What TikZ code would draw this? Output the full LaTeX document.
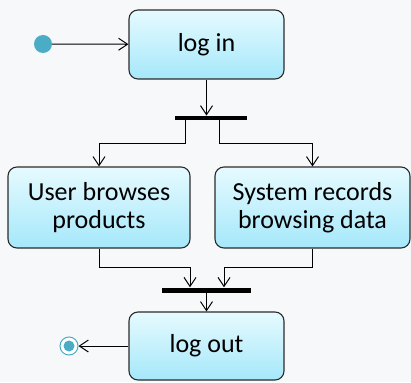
\documentclass[tikz,border=0pt]{standalone}
\usepackage{fontspec}
\setmainfont{Carlito}
\usepackage{xcolor}
\definecolor{actbg}{HTML}{F7F8FA}
\definecolor{acttop}{HTML}{E6FAFF}
\definecolor{actbot}{HTML}{A5E8FA}
\definecolor{actdot}{HTML}{4BACC6}
\definecolor{actln}{HTML}{2B2B2B}
\usetikzlibrary{arrows.meta,positioning,calc}

\begin{document}
\begin{tikzpicture}[x=1pt,y=-1pt,
  act/.style={draw=actln,line width=1.1pt,rounded corners=9pt,top color=acttop,bottom color=actbot,
    align=center,inner sep=0pt,font=\fontsize{26}{28}\selectfont},
  bar/.style={fill=black,inner sep=0pt},
  flow/.style={draw=black,line width=1pt,-{Straight Barb[length=9pt,width=12pt]}}]
\useasboundingbox[fill=actbg] (0,0) rectangle (411,382);
\node[act,minimum width=155pt,minimum height=69pt] (login) at (206.5,44.5) {log in};
\node[bar,minimum width=72pt,minimum height=4.5pt] (fork) at (211,118) {};
\node[act,minimum width=182pt,minimum height=81pt] (browse) at (99,207.5) {User browses\\products};
\node[act,minimum width=195pt,minimum height=81pt] (record) at (312.5,207.5) {System records\\browsing data};
\node[bar,minimum width=89pt,minimum height=5pt] (join) at (206.5,290) {};
\node[act,minimum width=155pt,minimum height=68pt] (logout) at (206.5,346) {log out};
\node[circle,fill=actdot,minimum size=18pt,inner sep=0pt] (start) at (43,44) {};
\node[circle,draw=actdot,line width=1pt,fill=white,minimum size=18pt,inner sep=0pt] (stop) at (69,346) {};
\node[circle,fill=actdot,minimum size=11pt,inner sep=0pt] at (stop) {};

\draw[flow] (start) -- (login);
\draw[flow] (login) -- (login |- fork.north);
\draw[flow] ([xshift=-26pt]fork.south) -- ++(0,23) -| (browse);
\draw[flow] ([xshift=8pt]fork.south) -- ++(0,23) -| (record);
\draw[flow] (browse.south) -- ++(0,19) -| ([xshift=-16.5pt]join.north);
\draw[flow] (record.south) -- ++(0,19) -| ([xshift=17.5pt]join.north);
\draw[flow] (join) -- (logout);
\draw[flow] (logout) -- (stop);
\end{tikzpicture}
\end{document}
